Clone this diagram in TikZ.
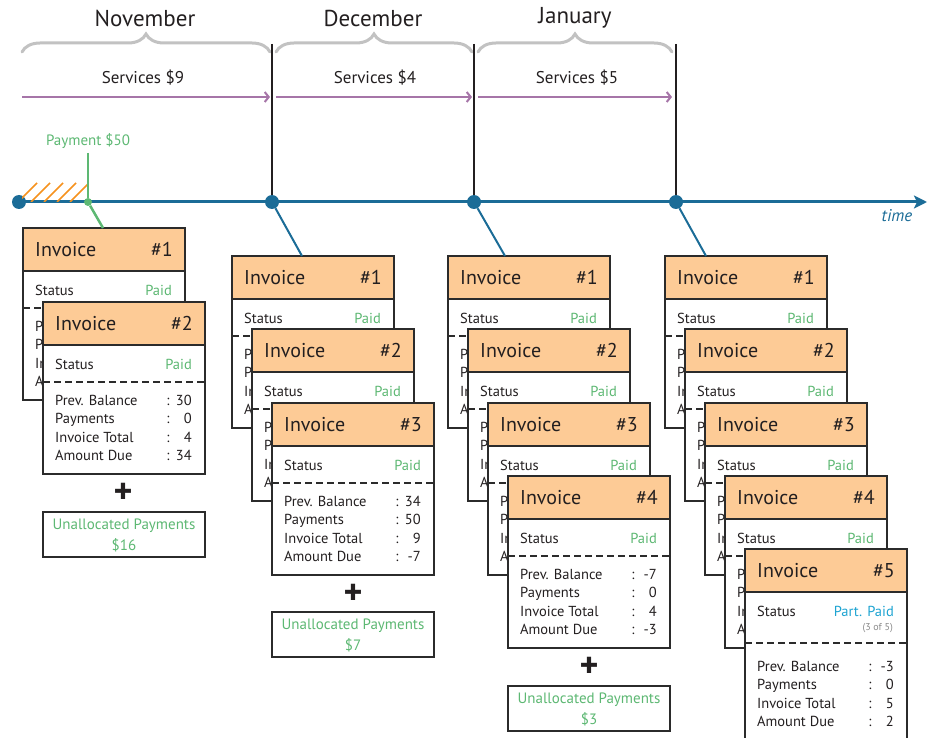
\documentclass[tikz,border=0pt]{standalone}
\usepackage{fontspec}
\setmainfont{PT Sans}
\usetikzlibrary{calc,arrows.meta,decorations.pathreplacing}

\definecolor{txtdark}{HTML}{231F20}
\definecolor{boxline}{HTML}{2B2B2B}
\definecolor{headfill}{HTML}{FDCB96}
\definecolor{paidgreen}{HTML}{5DB873}
\definecolor{tblue}{HTML}{1B6C97}
\definecolor{svcpurple}{HTML}{A675A8}
\definecolor{bracegray}{HTML}{C2C2C2}
\definecolor{hatchorange}{HTML}{F6921E}
\definecolor{partblue}{HTML}{1EA4D2}
\definecolor{notegray}{HTML}{8A8A8A}

\tikzset{
  invbox/.style={draw=boxline, line width=1.3pt, fill=white, anchor=north west,
    minimum width=162pt, minimum height=172pt, inner sep=0pt, outer sep=0pt},
  invhead/.style={draw=boxline, line width=1.3pt, fill=headfill, anchor=north west,
    minimum width=162pt, minimum height=43pt, inner sep=0pt, outer sep=0pt},
  ubox/.style={draw=boxline, line width=1.3pt, fill=white, anchor=north west,
    minimum width=162pt, minimum height=45pt, inner sep=0pt, outer sep=0pt},
  headtxt/.style={inner sep=0pt, text=txtdark, font=\fontsize{20}{24}\selectfont},
  rowtxt/.style={inner sep=0pt, text=txtdark, font=\fontsize{14.5}{18}\selectfont},
  paidtxt/.style={rowtxt, text=paidgreen},
  utxt/.style={inner sep=0pt, text=paidgreen, font=\fontsize{15}{18}\selectfont},
  sepline/.style={draw=boxline, line width=1.1pt, dash pattern=on 7pt off 4pt},
  monthtxt/.style={inner sep=0pt, text=txtdark, font=\fontsize{23}{27}\selectfont},
  svctxt/.style={inner sep=0pt, text=txtdark, font=\fontsize{17}{20}\selectfont},
  monthbrace/.style={draw=bracegray, line width=3pt, line cap=round,
    decorate, decoration={brace, amplitude=18pt}},
  monthline/.style={draw=txtdark, line width=2.5pt},
  svc/.style={draw=svcpurple, line width=2pt, -{Straight Barb[length=4pt,width=10pt]}},
  timeline/.style={draw=tblue, line width=3pt, -{Stealth[length=13pt,width=13pt,inset=3pt]}},
  tlink/.style={draw=tblue, line width=2pt},
  tdot/.style={circle, fill=tblue, minimum size=14pt, inner sep=0pt},
  plus/.style={inner sep=0pt, text=txtdark, font=\fontsize{36}{36}\selectfont\bfseries},
}

% invoice card: name, x, y, number
\newcommand{\invlabel}[3]{%
  \node[rowtxt, anchor=base west] (#1-l#2) at ($(#1.north west)+(12,#2)$) {#3};
}
\newcommand{\invoicecard}[4]{%
  \node[invbox] (#1) at (#2,#3) {};
  \node[invhead] (#1-h) at (#1.north west) {};
  \node[headtxt, anchor=base west] (#1-t) at ($(#1.north west)+(12,28)$) {Invoice};
  \node[headtxt, anchor=base east] (#1-n) at ($(#1.north west)+(150,28)$) {\##4};
  \node[rowtxt, anchor=base west] (#1-s) at ($(#1.north west)+(12,67)$) {Status};
  \node[paidtxt, anchor=base east] (#1-p) at ($(#1.north west)+(149,67)$) {Paid};
  \draw[sepline] ($(#1.north west)+(0,80)$) -- ($(#1.north east)+(0,80)$);
  \invlabel{#1}{103}{Prev. Balance}
  \invlabel{#1}{121}{Payments}
  \invlabel{#1}{140}{Invoice Total}
  \invlabel{#1}{158}{Amount Due}
}
% figures of the front card: name, dy, value
\newcommand{\invvalue}[3]{%
  \node[rowtxt, anchor=base] (#1-c#2) at ($(#1.north west)+(125,#2)$) {:};
  \node[rowtxt, anchor=base east] (#1-v#2) at ($(#1.north west)+(149,#2)$) {#3};
}
\newcommand{\invoicevalues}[5]{%
  \invvalue{#1}{103}{#2}
  \invvalue{#1}{121}{#3}
  \invvalue{#1}{140}{#4}
  \invvalue{#1}{158}{#5}
}
% unallocated payments: name, x, y, amount
\newcommand{\unallocbox}[4]{%
  \node[ubox] (#1) at (#2,#3) {};
  \node[utxt] (#1-a) at ($(#1.north)+(0,14)$) {Unallocated Payments};
  \node[utxt] (#1-b) at ($(#1.north)+(0,33)$) {\$#4};
}

\begin{document}
\begin{tikzpicture}[x=1pt, y=-1pt]
    \useasboundingbox (0,0) rectangle (929,738);
    \clip (0,0) rectangle (929,738);

    % Months
    \node[monthtxt] (nov) at (145,18) {November};
    \node[monthtxt] (dec) at (373,18) {December};
    \node[monthtxt] (jan) at (575,18) {January};

    \draw[monthbrace] (22,52) -- (270,52);
    \draw[monthbrace] (276,52) -- (472,52);
    \draw[monthbrace] (478,52) -- (672,52);

    % Services
    \node[svctxt] (svc1) at (143,78) {Services \$9};
    \node[svctxt] (svc2) at (375,78) {Services \$4};
    \node[svctxt] (svc3) at (577,78) {Services \$5};

    \coordinate (s1a) at (22,97);  \coordinate (s1b) at (270,97);
    \coordinate (s2a) at (276,97); \coordinate (s2b) at (472,97);
    \coordinate (s3a) at (478,97); \coordinate (s3b) at (672,97);
    \draw[svc] (s1a) -- (s1b);
    \draw[svc] (s2a) -- (s2b);
    \draw[svc] (s3a) -- (s3b);

    % Timeline
    \node[tdot] (start) at (19,202) {};
    \node[tdot] (decdot) at (272,202) {};
    \node[tdot] (jandot) at (474,202) {};
    \node[tdot] (febdot) at (676,202) {};
    \coordinate (tend) at (927,202);
    \draw[timeline] (start.center) -- (tend);
    \node[inner sep=0pt, text=tblue, font=\fontsize{17}{20}\selectfont\itshape] (time) at (897,216) {time};

    \coordinate (dectop) at (272,44);
    \coordinate (jantop) at (474,44);
    \coordinate (febtop) at (676,44);
    \draw[monthline] (dectop) -- (decdot);
    \draw[monthline] (jantop) -- (jandot);
    \draw[monthline] (febtop) -- (febdot);

    % Payment
    \begin{scope}
      \clip (22,183) rectangle (88,202);
      \foreach \x in {18,31,44,57,70}
        \draw[hatchorange, line width=1.5pt] (\x,202) -- ++(19,-19);
    \end{scope}
    \node[circle, fill=paidgreen, minimum size=8pt, inner sep=0pt] (paydot) at (88,202) {};
    \coordinate (paytop) at (88,153);
    \draw[paidgreen, line width=2.5pt] (paytop) -- (paydot);
    \node[utxt] (paylbl) at (88,141) {Payment \$50};

    % November
    \invoicecard{nov1}{23}{228}{1}
    \invoicecard{nov2}{43}{302}{2}
    \invoicevalues{nov2}{30}{0}{4}{34}
    \node[plus] (novplus) at (123,493) {+};
    \unallocbox{novu}{43}{512}{16}
    \draw[paidgreen, line width=2.5pt] (paydot) -- ($(nov1.north west)+(80,0)$);

    % December
    \invoicecard{dec1}{232}{256}{1}
    \invoicecard{dec2}{252}{329}{2}
    \invoicecard{dec3}{272}{403}{3}
    \invoicevalues{dec3}{34}{50}{9}{-7}
    \node[plus] (decplus) at (353,594) {+};
    \unallocbox{decu}{272}{612}{7}
    \draw[tlink] (decdot) -- ($(dec1.north west)+(70,0)$);

    % January
    \invoicecard{jan1}{448}{256}{1}
    \invoicecard{jan2}{468}{329}{2}
    \invoicecard{jan3}{488}{403}{3}
    \invoicecard{jan4}{508}{476}{4}
    \invoicevalues{jan4}{-7}{0}{4}{-3}
    \node[plus] (janplus) at (589,667) {+};
    \unallocbox{janu}{508}{686}{3}
    \draw[tlink] (jandot) -- ($(jan1.north west)+(57,0)$);

    % February
    \invoicecard{feb1}{665}{256}{1}
    \invoicecard{feb2}{685}{329}{2}
    \invoicecard{feb3}{705}{403}{3}
    \invoicecard{feb4}{725}{476}{4}
    \draw[tlink] (febdot) -- ($(feb1.north west)+(41,0)$);

    \node[invbox, minimum height=200pt] (feb5) at (745,549) {};
    \node[invhead] (feb5-h) at (feb5.north west) {};
    \node[headtxt, anchor=base west] (feb5-t) at ($(feb5.north west)+(12,28)$) {Invoice};
    \node[headtxt, anchor=base east] (feb5-n) at ($(feb5.north west)+(150,28)$) {\#5};
    \node[rowtxt, anchor=base west] (feb5-s) at ($(feb5.north west)+(12,67)$) {Status};
    \node[rowtxt, text=partblue, anchor=base east] (feb5-p) at ($(feb5.north west)+(149,67)$) {Part. Paid};
    \node[inner sep=0pt, text=notegray, font=\fontsize{10}{12}\selectfont, anchor=base east] (feb5-q) at ($(feb5.north west)+(148,81)$) {(3 of 5)};
    \draw[sepline] ($(feb5.north west)+(0,94)$) -- ($(feb5.north east)+(0,94)$);
    \invlabel{feb5}{122}{Prev. Balance}
    \invlabel{feb5}{140}{Payments}
    \invlabel{feb5}{159}{Invoice Total}
    \invlabel{feb5}{177}{Amount Due}
    \invvalue{feb5}{122}{-3}
    \invvalue{feb5}{140}{0}
    \invvalue{feb5}{159}{5}
    \invvalue{feb5}{177}{2}
\end{tikzpicture}
\end{document}
